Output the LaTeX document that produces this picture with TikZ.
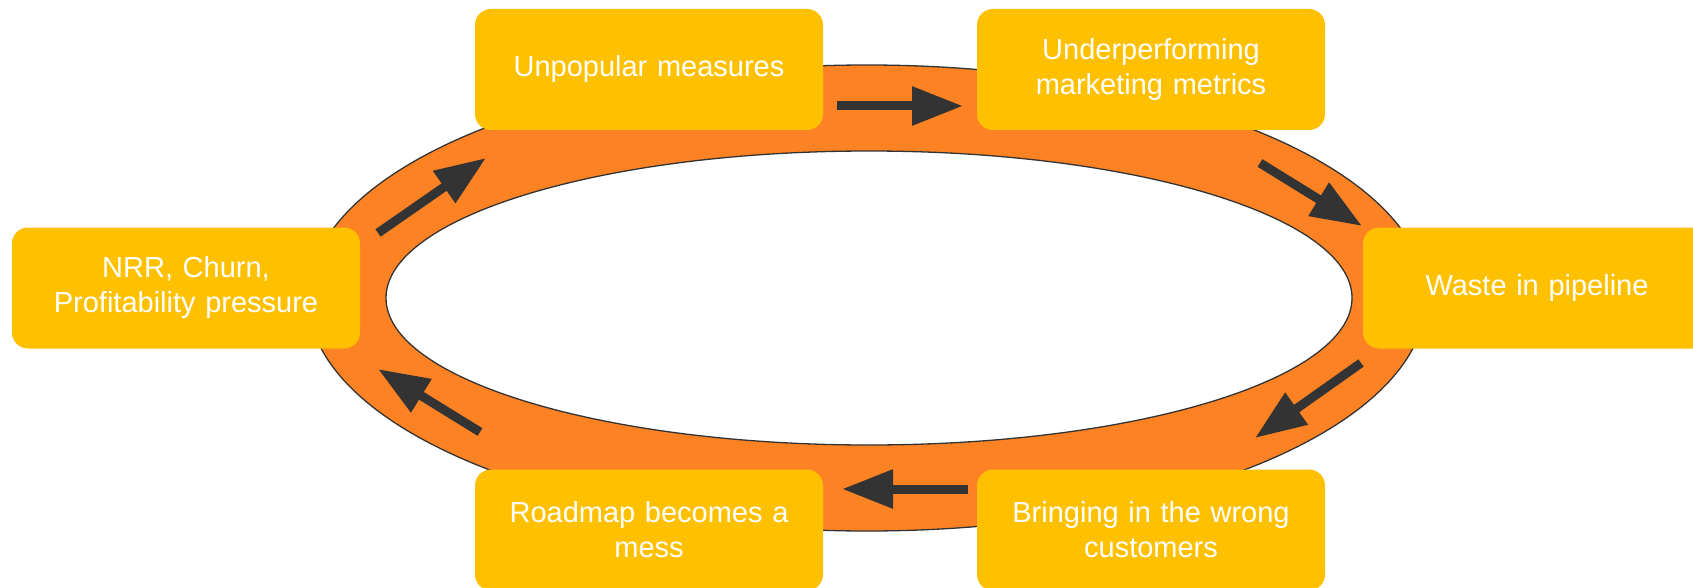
\documentclass[tikz,border=0pt]{standalone}
\usepackage{fontspec}
\setmainfont{Liberation Sans}
\usetikzlibrary{arrows.meta}
\definecolor{ringc}{HTML}{FD8224}
\definecolor{boxc}{HTML}{FFC000}
\definecolor{arrc}{HTML}{333333}
\begin{document}
\begin{tikzpicture}[x=1pt,y=-1pt,
  box/.style={fill=boxc, rounded corners=16pt, minimum width=348pt, minimum height=121pt,
    text=white, align=center, font=\fontsize{29}{35}\selectfont, inner sep=0pt, text width=330pt},
  flow/.style={draw=arrc, line width=9pt, -{Triangle[length=51pt,width=37pt]}},
  ringline/.style={draw=arrc, line width=1.3pt}]
\useasboundingbox (0,0) rectangle (1693,588);
\fill[white] (0,0) rectangle (1693,588);
\draw[ringline, fill=ringc] (867,298) ellipse [x radius=559, y radius=233];
\draw[ringline, fill=white] (869,298) ellipse [x radius=483, y radius=147];

\node[box] (unpop) at (649,69.5) {Unpopular measures};
\node[box] (under) at (1151,69.5) {Underperforming\\marketing metrics};
\node[box] (nrr) at (186,288) {NRR, Churn,\\Profitability pressure};
\node[box] (waste) at (1537,288) {Waste in pipeline};
\node[box] (road) at (649,530) {Roadmap becomes a\\mess};
\node[box] (bring) at (1151,530) {Bringing in the wrong\\customers};

\coordinate (a1s) at (837,106);  \coordinate (a1e) at (963,106);
\coordinate (a2s) at (1260,163); \coordinate (a2e) at (1362,226);
\coordinate (a3s) at (1361,363); \coordinate (a3e) at (1255,438);
\coordinate (a4s) at (968,489);  \coordinate (a4e) at (842,489);
\coordinate (a5s) at (480,432);  \coordinate (a5e) at (378,369);
\coordinate (a6s) at (378,233);  \coordinate (a6e) at (486,158);

\draw[flow] (a1s) -- (a1e);
\draw[flow] (a2s) -- (a2e);
\draw[flow] (a3s) -- (a3e);
\draw[flow] (a4s) -- (a4e);
\draw[flow] (a5s) -- (a5e);
\draw[flow] (a6s) -- (a6e);
\end{tikzpicture}
\end{document}
